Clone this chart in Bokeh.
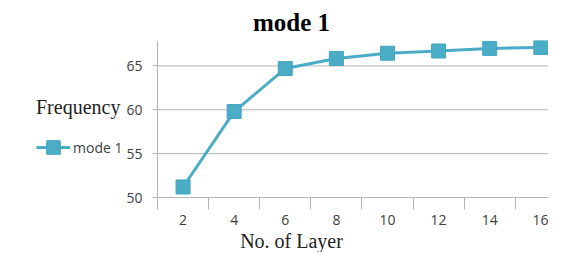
from bokeh.plotting import figure
from bokeh.models import Range1d, FixedTicker, Legend, LegendItem, Title
from bokeh.embed import file_html
from bokeh.resources import INLINE

# ---- data ----
layers = [2, 4, 6, 8, 10, 12, 14, 16]
mode1 = [51.2, 59.8, 64.7, 65.85, 66.45, 66.7, 67.0, 67.1]
y_ticks = [50, 55, 60, 65]
series_name = "mode 1"
title_text = "mode 1"
x_title = "No. of Layer"
y_title = "Frequency"

COLOR = "#4BACC6"
GRID = "#B4B4B4"
TICK_TXT = "#404040"

# ---- layout (pixels) ----
W, H = 548, 252
BL, BT = 34, 40                  # frame borders
BASE_PX = 197                    # pixel row of the value-axis minimum
PAD_PX = 7                       # frame space kept below the minimum
BB = H - BASE_PX - PAD_PX
AXIS_PX = 157                    # where the value axis sits
X_LO, X_HI = 1, 16.3             # plotted category span
Y_LO, Y_HI = 50, 67.9
fw = W - BL
sx = (W - AXIS_PX) / (X_HI - X_LO)
X0 = X_HI - fw / sx
sy = (BASE_PX - BT) / (Y_HI - Y_LO)
Y0 = Y_LO - PAD_PX / sy

p = figure(width=W, height=H, output_backend="svg", toolbar_location=None,
           x_range=Range1d(X0, X_HI), y_range=Range1d(Y0, Y_HI),
           min_border_left=BL, min_border_right=0, min_border_top=BT,
           min_border_bottom=BB)
p.outline_line_color = None
p.xgrid.grid_line_color = None
p.ygrid.grid_line_color = None

# horizontal grid lines spanning only the category area
p.segment(x0=X_LO, x1=X_HI, y0=y_ticks, y1=y_ticks, line_color=GRID, line_width=1)

r_line = p.line(layers, mode1, line_color=COLOR, line_width=3)
r_mark = p.scatter(layers, mode1, marker="square", size=14,
                   fill_color=COLOR, line_color="#43A6C1", line_width=1)

# x axis
xa = p.xaxis[0]
xa.ticker = FixedTicker(ticks=layers, minor_ticks=[l - 1 for l in layers] + [layers[-1] + 1])
xa.bounds = (X_LO, layers[-1] + 1)
xa.axis_line_color = None
xa.major_tick_line_color = None
xa.major_tick_out = 0
xa.major_tick_in = 0
xa.minor_tick_line_color = GRID
xa.minor_tick_out = 5
xa.minor_tick_in = PAD_PX
xa.major_label_text_font = "Open Sans"
xa.major_label_text_font_size = "14px"
xa.major_label_text_color = TICK_TXT
xa.major_label_standoff = 5

# y axis, drawn at the start of the category span
ya = p.yaxis[0]
ya.fixed_location = X_LO
ya.bounds = (Y_LO, Y_HI)
ya.ticker = FixedTicker(ticks=y_ticks)
ya.minor_tick_line_color = None
ya.major_tick_line_color = GRID
ya.major_tick_out = 5
ya.major_tick_in = 0
ya.axis_line_color = GRID
ya.major_label_text_font = "Open Sans"
ya.major_label_text_font_size = "14px"
ya.major_label_text_color = TICK_TXT
ya.major_label_standoff = 10

# title
p.title = Title(text=title_text, text_font="Liberation Serif", text_font_style="bold",
                text_font_size="25px", text_color="black", align="center",
                offset=4, standoff=10)

# x axis title
p.add_layout(Title(text=x_title, text_font="Liberation Serif", text_font_style="normal",
                   text_font_size="20px", text_color="#222222", align="center",
                   offset=29, standoff=0), "below")

legend = Legend(items=[LegendItem(label=series_name, renderers=[r_line, r_mark])],
                title=y_title, title_text_font="Liberation Serif",
                title_text_font_size="20px", title_text_font_style="normal",
                title_text_color="#222222", title_standoff=11,
                location=(2, (H - BB) - 164),
                glyph_width=34, glyph_height=34, label_standoff=3,
                padding=0, margin=0, border_line_color=None,
                background_fill_alpha=0, label_text_font="Open Sans",
                label_text_font_size="14px", label_text_color=TICK_TXT)
p.add_layout(legend)

open("out.html", "w").write(file_html(p, INLINE))
